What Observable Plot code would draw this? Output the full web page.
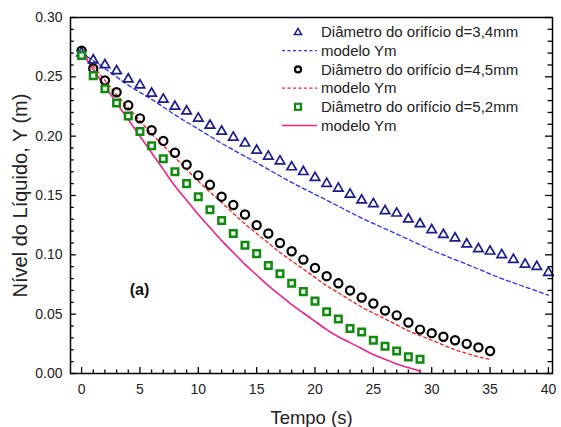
<!DOCTYPE html>
<html><head><meta charset="utf-8">
<script src="https://cdn.jsdelivr.net/npm/d3@7"></script>
<script src="https://cdn.jsdelivr.net/npm/@observablehq/plot@0.6"></script>
<style>body{margin:0;background:#fff} svg{display:block}</style>
</head><body><div id="chart"></div>
<script>
// Experimental points (time in s, level in m)
const tri_t = [0,1,2,3,4,5,6,7,8,9,10,11,12,13,14,15,16,17,18,19,20,21,22,23,24,25,26,27,28,29,30,31,32,33,34,35,36,37,38,39,40];
const tri_y = [0.270,0.264,0.260,0.255,0.248,0.243,0.236,0.231,0.225,0.221,0.215,0.209,0.204,0.199,0.194,0.188,0.183,0.179,0.174,0.170,0.165,0.160,0.156,0.151,0.146,0.143,0.137,0.135,0.130,0.126,0.121,0.117,0.114,0.109,0.105,0.103,0.100,0.096,0.092,0.090,0.085];
const circ_t = [0,1,2,3,4,5,6,7,8,9,10,11,12,13,14,15,16,17,18,19,20,21,22,23,24,25,26,27,28,29,30,31,32,33,34,35];
const circ_y = [0.272,0.257,0.247,0.237,0.226,0.215,0.205,0.196,0.186,0.176,0.167,0.159,0.149,0.142,0.134,0.125,0.118,0.110,0.103,0.096,0.089,0.082,0.076,0.070,0.064,0.059,0.053,0.049,0.043,0.037,0.034,0.031,0.028,0.025,0.022,0.019];
const sq_t = [0,1,2,3,4,5,6,7,8,9,10,11,12,13,14,15,16,17,18,19,20,21,22,23,24,25,26,27,28,29];
const sq_y = [0.268,0.251,0.240,0.228,0.217,0.204,0.192,0.181,0.170,0.160,0.149,0.138,0.129,0.118,0.108,0.101,0.091,0.084,0.076,0.069,0.061,0.052,0.046,0.038,0.035,0.028,0.023,0.019,0.014,0.012];

// Model curves (modelo Ym)
const blue_t = [0,2,4,6,8,10,12,14,16,18,20,22,24,26,28,30,32,34,36,38,40];
const blue_y = [0.270,0.257,0.243,0.231,0.218,0.206,0.194,0.183,0.172,0.161,0.151,0.141,0.131,0.122,0.113,0.104,0.096,0.088,0.080,0.073,0.066];
const red_t = [0,1,2,3,4,5,6,7,8,9,10,11,12,13,14,15,16,17,18,19,20,21,22,23,24,25,26,27,28,29,30,31,32,33,34,35];
const red_y = [0.271,0.259,0.247,0.235,0.224,0.213,0.202,0.192,0.182,0.172,0.162,0.153,0.144,0.135,0.126,0.118,0.110,0.102,0.095,0.088,0.081,0.074,0.068,0.062,0.056,0.051,0.046,0.041,0.036,0.032,0.028,0.024,0.020,0.017,0.014,0.012];
const pink_t = [0,1,2,3,4,5,6,7,8,9,10,11,12,13,14,15,16,17,18,19,20,21,22,23,24,25,26,27,28,29];
const pink_y = [0.271,0.256,0.242,0.228,0.214,0.200,0.186,0.172,0.158,0.146,0.134,0.123,0.112,0.102,0.092,0.083,0.074,0.066,0.058,0.051,0.044,0.037,0.031,0.026,0.021,0.016,0.012,0.008,0.005,0.002];

// Axis ticks and labels
const xMajor = [0,5,10,15,20,25,30,35,40];
const yMajor = [0,0.05,0.10,0.15,0.20,0.25,0.30];
const xLabel = "Tempo (s)";
const yLabel = "Nível do Líquido, Y (m)";
const panelLabel = "(a)";
const legendLabels = ["Diâmetro do orifício d=3,4mm","modelo Ym","Diâmetro do orifício d=4,5mm","modelo Ym","Diâmetro do orifício d=5,2mm","modelo Ym"];

const xMinor = d3.range(0, 41, 1).filter(d => d % 5 !== 0);
const yMinor = d3.range(0, 31, 1).filter(d => d % 5 !== 0).map(d => d / 100);

const rows = (t, y) => t.map((tt, i) => ({t: tt, y: y[i]}));
const triData = rows(tri_t, tri_y), circData = rows(circ_t, circ_y), sqData = rows(sq_t, sq_y);
const blueData = rows(blue_t, blue_y), redData = rows(red_t, red_y), pinkData = rows(pink_t, pink_y);

const xDom = [-0.95, 40.35];
const C = {tri: "#1c1c8a", blue: "#2b2bff", circ: "#000000", red: "#ff1a1a", sq: "#128a12", pink: "#f0208a"};
const FONT = "'Liberation Sans', Arial, sans-serif";

const chart = Plot.plot({
  width: 561, height: 427,
  marginLeft: 70, marginRight: 9, marginTop: 17, marginBottom: 54,
  style: {fontFamily: FONT, background: "#fff", color: "#222"},
  x: {domain: xDom, axis: null},
  y: {domain: [0, 0.30], axis: null},
  marks: [
    // tick labels
    Plot.axisX(xMajor, {tickSize: 0, tickPadding: 11, fontSize: 14, label: null}),
    Plot.axisY(yMajor, {tickSize: 0, tickPadding: 8, fontSize: 14, label: null, tickFormat: d3.format(".2f")}),
    // inward ticks: bottom
    Plot.ruleX(xMajor, {x: d => d, y1: 0, y2: 0.005, stroke: "#000", strokeWidth: 1.3}),
    Plot.ruleX(xMinor, {x: d => d, y1: 0, y2: 0.003, stroke: "#000", strokeWidth: 1.3}),
    // left
    Plot.ruleY(yMajor, {y: d => d, x1: xDom[0], x2: xDom[0] + 0.5, stroke: "#000", strokeWidth: 1.3}),
    Plot.ruleY(yMinor, {y: d => d, x1: xDom[0], x2: xDom[0] + 0.32, stroke: "#000", strokeWidth: 1.3}),
    // right
    Plot.ruleY(yMajor, {y: d => d, x1: xDom[1], x2: xDom[1] - 0.6, stroke: "#000", strokeWidth: 1.3}),
    Plot.ruleY(yMinor, {y: d => d, x1: xDom[1], x2: xDom[1] - 0.38, stroke: "#000", strokeWidth: 1.3}),
    // model lines
    Plot.line(blueData, {x: "t", y: "y", stroke: C.blue, strokeWidth: 1.3, strokeDasharray: "4,3", curve: "natural"}),
    Plot.line(redData, {x: "t", y: "y", stroke: C.red, strokeWidth: 1.3, strokeDasharray: "3,3", curve: "natural"}),
    Plot.line(pinkData, {x: "t", y: "y", stroke: C.pink, strokeWidth: 1.6, curve: "natural"}),
    // experimental points
    Plot.dot(triData, {x: "t", y: "y", symbol: "triangle", r: 3.5, stroke: C.tri, strokeWidth: 1.7, fill: "none"}),
    Plot.dot(circData, {x: "t", y: "y", symbol: "circle", r: 4.1, stroke: C.circ, strokeWidth: 2.2, fill: "none"}),
    Plot.dot(sqData, {x: "t", y: "y", symbol: "square", r: 3.7, stroke: C.sq, strokeWidth: 2.5, fill: "#f4fff4"}),
    // labels
    Plot.text([xLabel], {frameAnchor: "bottom", dy: 45, fontSize: 18.5, fill: "#222", textAnchor: "middle", lineAnchor: "middle"}),
    Plot.text([yLabel], {frameAnchor: "left", dx: -50, rotate: -90, fontSize: 20, fill: "#222", textAnchor: "middle", lineAnchor: "middle"}),
    Plot.text([panelLabel], {frameAnchor: "top-left", dx: 69, dy: 272, fontSize: 16, fontWeight: "bold", fill: "#111", textAnchor: "middle", lineAnchor: "middle"}),
    Plot.frame({stroke: "#000", strokeWidth: 1.5})
  ]
});

// legend (inside plot area, top right)
const svg = d3.select(chart);
const g = svg.append("g").attr("font-family", FONT).attr("font-size", 15).attr("fill", "#222").attr("text-anchor", "start");
const lx = 298, ltx = 321, ly0 = 32, lstep = 18.7;
const kinds = ["tri", "blue", "circ", "red", "sq", "pink"];
legendLabels.forEach((lab, i) => {
  const y = ly0 + i * lstep;
  const k = kinds[i];
  if (k === "tri") g.append("path").attr("d", d3.symbol(d3.symbolTriangle, 22)()).attr("transform", `translate(${lx},${y + 0.5})`).attr("fill", "none").attr("stroke", C.tri).attr("stroke-width", 1.5);
  if (k === "circ") g.append("circle").attr("cx", lx).attr("cy", y).attr("r", 3).attr("fill", "none").attr("stroke", "#000").attr("stroke-width", 2.2);
  if (k === "sq") g.append("rect").attr("x", lx - 3).attr("y", y - 3).attr("width", 6).attr("height", 6).attr("fill", "#f4fff4").attr("stroke", C.sq).attr("stroke-width", 2.2);
  if (k === "blue" || k === "red" || k === "pink") {
    const ln = g.append("line").attr("x1", 282).attr("x2", 317).attr("y1", y).attr("y2", y)
      .attr("stroke", C[k]).attr("stroke-width", k === "pink" ? 1.6 : 1.3);
    if (k !== "pink") ln.attr("stroke-dasharray", "3,2.5");
  }
  g.append("text").attr("x", ltx).attr("y", y).attr("dy", "0.35em").attr("text-anchor", "start").text(lab);
});

document.getElementById("chart").appendChild(chart);
</script>
</body></html>
